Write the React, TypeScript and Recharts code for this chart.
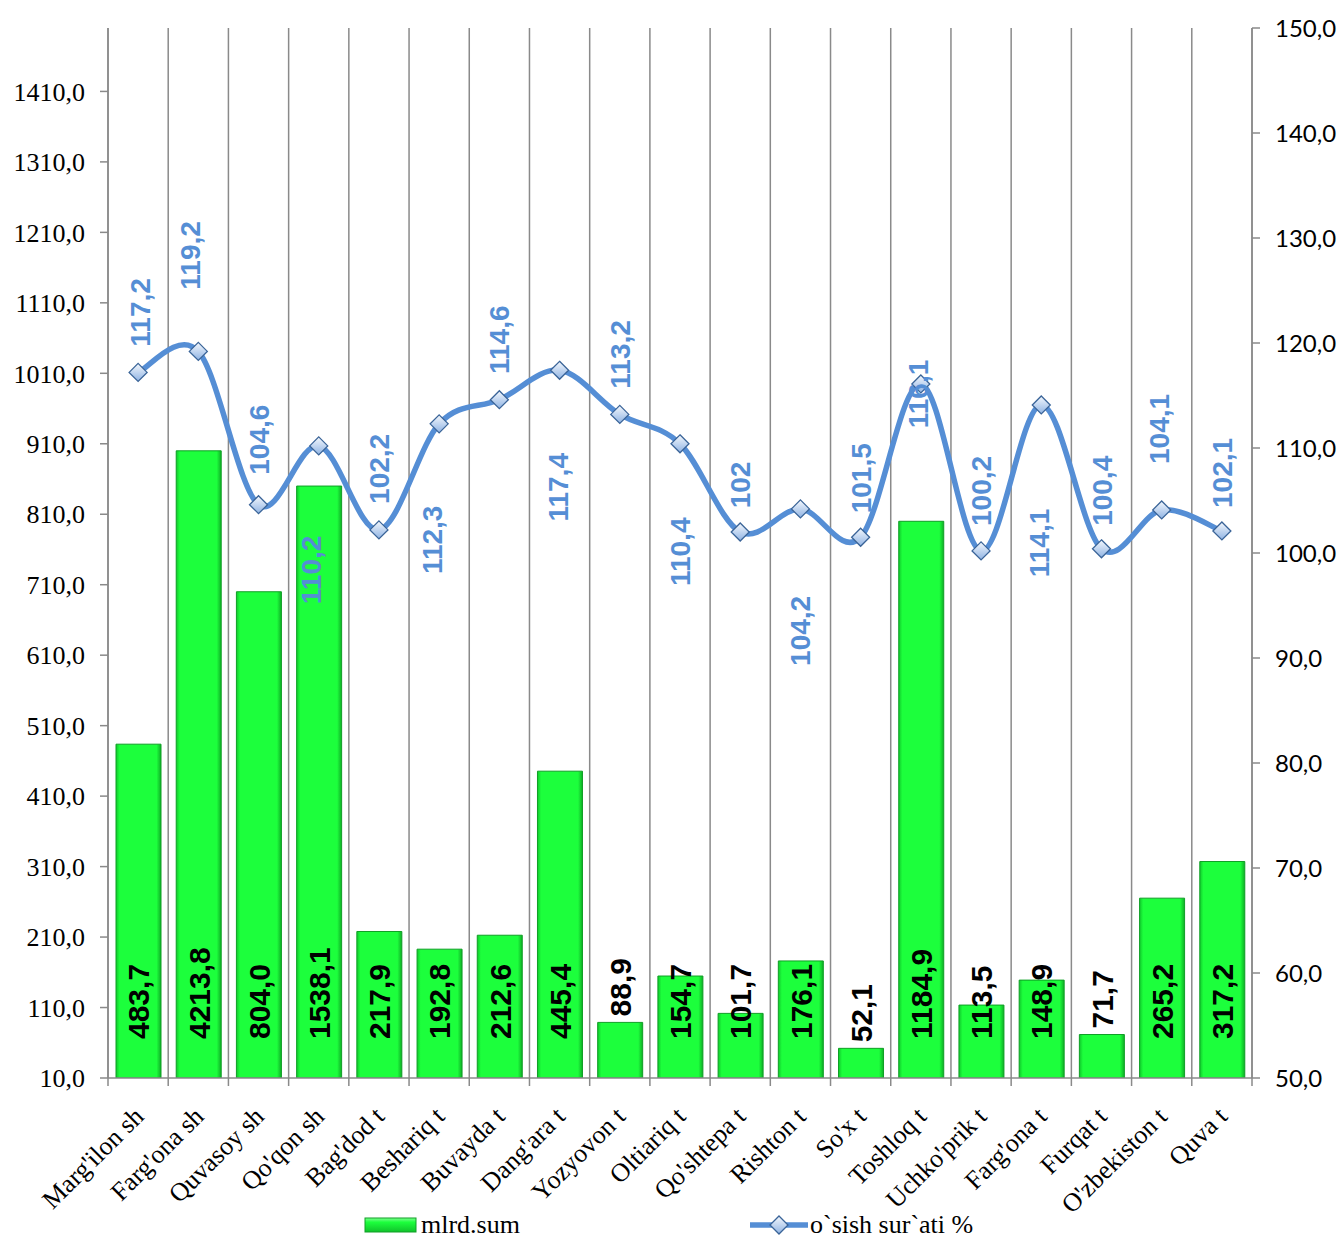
import React from 'react';
import {
  Bar,
  CartesianGrid,
  ComposedChart,
  LabelList,
  Line,
  XAxis,
  YAxis,
} from 'recharts';

// --- data ---
const CATEGORIES = [
  "Marg'ilon sh",
  "Farg'ona sh",
  'Quvasoy sh',
  "Qo'qon sh",
  "Bag'dod t",
  'Beshariq t',
  'Buvayda t',
  "Dang'ara t",
  'Yozyovon t',
  'Oltiariq t',
  "Qo'shtepa t",
  'Rishton t',
  "So'x t",
  'Toshloq t',
  "Uchko'prik t",
  "Farg'ona t",
  'Furqat t',
  "O'zbekiston t",
  'Quva t',
];

// bar heights as drawn on the left axis (tall bars are cut short in the source chart)
const BAR_HEIGHTS = [
  483.7, 900, 700, 850, 217.9, 192.8, 212.6, 445.4, 88.9, 154.7, 101.7, 176.1, 52.1, 800,
  113.5, 148.9, 71.7, 265.2, 317.2,
];

// values printed on the bars
const BAR_LABELS = [
  483.7, 4213.8, 804.0, 1538.1, 217.9, 192.8, 212.6, 445.4, 88.9, 154.7, 101.7, 176.1, 52.1,
  1184.9, 113.5, 148.9, 71.7, 265.2, 317.2,
];

// o`sish sur`ati %
const GROWTH = [
  117.2, 119.2, 104.6, 110.2, 102.2, 112.3, 114.6, 117.4, 113.2, 110.4, 102, 104.2, 101.5,
  116.1, 100.2, 114.1, 100.4, 104.1, 102.1,
];

const LEFT_TICKS = [10, 110, 210, 310, 410, 510, 610, 710, 810, 910, 1010, 1110, 1210, 1310, 1410];
const RIGHT_TICKS = [50, 60, 70, 80, 90, 100, 110, 120, 130, 140, 150];

// --- layout ---
const W = 1342;
const H = 1239;
const PLOT_LEFT = 108;
const PLOT_RIGHT = 1252;
const PLOT_TOP = 28;
const PLOT_BOTTOM = 1078;
const BAND = (PLOT_RIGHT - PLOT_LEFT) / CATEGORIES.length;

const AXIS_GRAY = '#8a8a8a';
const LINE_BLUE = '#558ed5';
const SERIF = '"Liberation Serif", "Times New Roman", serif';
const SANS = '"Liberation Sans", Arial, sans-serif';

// where Excel put each growth label, relative to its point [dx, dy]
const LINE_LABEL_SHIFT: [number, number][] = [
  [2, -60],
  [-8, -96],
  [0, -65],
  [-8, 124],
  [0, -61],
  [-7, 116],
  [0, -60],
  [-2, 117],
  [0, -60],
  [0, 108],
  [0, -47],
  [0, 122],
  [0, -59],
  [-3, 10],
  [0, -60],
  [-2, 138],
  [0, -58],
  [-3, -81],
  [0, -58],
];

const chartData = CATEGORIES.map((name, i) => ({
  name,
  value: BAR_HEIGHTS[i],
  barLabel: BAR_LABELS[i],
  growth: GROWTH[i],
}));

const fmt1 = (v: number) => v.toFixed(1).replace('.', ',');
const fmtGrowth = (v: number) => (Number.isInteger(v) ? String(v) : String(v).replace('.', ','));

// smoothed line like Excel's (catmull-rom through the points)
const smoothCurve = (context: any) => {
  let pts: [number, number][] = [];
  return {
    areaStart() {},
    areaEnd() {},
    lineStart() {
      pts = [];
    },
    point(x: number, y: number) {
      pts.push([+x, +y]);
    },
    lineEnd() {
      if (!pts.length) return;
      context.moveTo(pts[0][0], pts[0][1]);
      for (let i = 0; i < pts.length - 1; i++) {
        const p0 = pts[i - 1] || pts[i];
        const p1 = pts[i];
        const p2 = pts[i + 1];
        const p3 = pts[i + 2] || p2;
        const t = 1 / 6;
        context.bezierCurveTo(
          p1[0] + (p2[0] - p0[0]) * t,
          p1[1] + (p2[1] - p0[1]) * t,
          p2[0] - (p3[0] - p1[0]) * t,
          p2[1] - (p3[1] - p1[1]) * t,
          p2[0],
          p2[1],
        );
      }
    },
  };
};

const CategoryTick = (props: any) => {
  const { x, y, payload, index } = props;
  const ax = x + 7;
  const ay = y + 40;
  return (
    <g>
      <line x1={x - BAND / 2} x2={x - BAND / 2} y1={y} y2={y + 8} stroke={AXIS_GRAY} strokeWidth={1.5} />
      {index === CATEGORIES.length - 1 && (
        <line x1={x + BAND / 2} x2={x + BAND / 2} y1={y} y2={y + 8} stroke={AXIS_GRAY} strokeWidth={1.5} />
      )}
      <text
        x={ax}
        y={ay}
        transform={`rotate(-45, ${ax}, ${ay})`}
        textAnchor="end"
        fontFamily={SERIF}
        fontSize={26}
        fill="#000"
      >
        {payload.value}
      </text>
    </g>
  );
};

const BarValueLabel = (props: any) => {
  const { x, y, width, height, index } = props;
  const cx = Number(x) + Number(width) / 2;
  const bottom = Number(y) + Number(height);
  const ty = Number(height) >= 60 ? bottom - 39 : Number(y) - 6;
  return (
    <text
      x={cx}
      y={ty}
      dy="0.36em"
      transform={`rotate(-90, ${cx}, ${ty})`}
      textAnchor="start"
      fontFamily={SANS}
      fontWeight="bold"
      fontSize={30}
      fill="#000"
    >
      {fmt1(BAR_LABELS[index])}
    </text>
  );
};

const LineValueLabel = (props: any) => {
  const { x, y, index } = props;
  const [dx, dy] = LINE_LABEL_SHIFT[index] || [0, -60];
  const lx = Number(x) + dx;
  const ly = Number(y) + dy;
  return (
    <text
      x={lx}
      y={ly}
      dy="0.36em"
      transform={`rotate(-90, ${lx}, ${ly})`}
      textAnchor="middle"
      fontFamily={SANS}
      fontWeight="bold"
      fontSize={28}
      fill={LINE_BLUE}
    >
      {fmtGrowth(GROWTH[index])}
    </text>
  );
};

const Diamond = (props: any) => {
  const { cx, cy, index } = props;
  const s = 9;
  return (
    <path
      key={`d-${index}`}
      d={`M${cx},${cy - s} L${cx + s},${cy} L${cx},${cy + s} L${cx - s},${cy} Z`}
      fill="url(#diamondGrad)"
      stroke="#3a6498"
      strokeWidth={1.3}
    />
  );
};

const LegendBox: React.FC = () => (
  <svg
    width={W}
    height={39}
    style={{ position: 'absolute', left: 0, top: 1200, pointerEvents: 'none' }}
  >
    <defs>
      <linearGradient id="legendBarGrad" x1="0" y1="0" x2="0" y2="1">
        <stop offset="0%" stopColor="#7dff8f" />
        <stop offset="30%" stopColor="#1cff3c" />
        <stop offset="100%" stopColor="#10c22b" />
      </linearGradient>
      <linearGradient id="legendDiamondGrad" x1="0" y1="0" x2="0" y2="1">
        <stop offset="0%" stopColor="#f4f8fd" />
        <stop offset="100%" stopColor="#8fb3e3" />
      </linearGradient>
    </defs>
    <rect x={365} y={18} width={51} height={14} fill="url(#legendBarGrad)" stroke="#119f27" strokeWidth={1} />
    <text x={421} y={33} fontFamily={SERIF} fontSize={26} fill="#000">
      mlrd.sum
    </text>
    <line x1={750} x2={808} y1={25} y2={25} stroke={LINE_BLUE} strokeWidth={5.5} />
    <path d="M779,16 L788,25 L779,34 L770,25 Z" fill="url(#legendDiamondGrad)" stroke="#3a6498" strokeWidth={1.3} />
    <text x={810} y={33} fontFamily={SERIF} fontSize={26} fill="#000">
      o`sish sur`ati %
    </text>
  </svg>
);

const App: React.FC = () => {
  return (
    <div style={{ position: 'absolute', left: 0, top: 0, width: W, height: H, background: '#fff' }}>
      <ComposedChart
        width={W}
        height={H}
        data={chartData}
        margin={{ top: PLOT_TOP, right: W - PLOT_RIGHT - 90, bottom: 0, left: PLOT_LEFT - 100 }}
      >
        <defs>
          <linearGradient id="barGrad" x1="0" y1="0" x2="1" y2="0">
            <stop offset="0%" stopColor="#10c82b" />
            <stop offset="8%" stopColor="#1cff3c" />
            <stop offset="90%" stopColor="#1cff3c" />
            <stop offset="100%" stopColor="#0fae26" />
          </linearGradient>
          <linearGradient id="diamondGrad" x1="0" y1="0" x2="0" y2="1">
            <stop offset="0%" stopColor="#f4f8fd" />
            <stop offset="100%" stopColor="#8fb3e3" />
          </linearGradient>
        </defs>
        <CartesianGrid
          horizontal={false}
          vertical
          stroke={AXIS_GRAY}
          strokeWidth={1.5}
          verticalCoordinatesGenerator={({ offset }: any) =>
            Array.from({ length: CATEGORIES.length + 1 }, (_, i) => offset.left + (i * offset.width) / CATEGORIES.length)
          }
        />
        <XAxis
          dataKey="name"
          interval={0}
          height={H - PLOT_BOTTOM}
          tickSize={0}
          tickMargin={0}
          tickLine={false}
          axisLine={{ stroke: AXIS_GRAY, strokeWidth: 1.5 }}
          tick={<CategoryTick />}
        />
        <YAxis
          yAxisId="left"
          width={100}
          domain={[10, 1500]}
          ticks={LEFT_TICKS}
          allowDataOverflow
          tickSize={8}
          tickMargin={15}
          tickFormatter={fmt1}
          axisLine={{ stroke: AXIS_GRAY, strokeWidth: 1.5 }}
          tickLine={{ stroke: AXIS_GRAY, strokeWidth: 1.5 }}
          tick={{ fontFamily: SERIF, fontSize: 26, fill: '#000' }}
        />
        <YAxis
          yAxisId="right"
          orientation="right"
          width={90}
          domain={[50, 150]}
          ticks={RIGHT_TICKS}
          allowDataOverflow
          tickSize={8}
          tickMargin={15}
          tickFormatter={fmt1}
          axisLine={{ stroke: AXIS_GRAY, strokeWidth: 1.5 }}
          tickLine={{ stroke: AXIS_GRAY, strokeWidth: 1.5 }}
          tick={{ fontFamily: 'Lato, "Open Sans", sans-serif', fontSize: 24, fill: '#000' }}
        />
        <Bar
          yAxisId="left"
          dataKey="value"
          barSize={45}
          fill="url(#barGrad)"
          stroke="#0f9f25"
          strokeWidth={1}
          isAnimationActive={false}
        >
          <LabelList dataKey="barLabel" content={<BarValueLabel />} />
        </Bar>
        <Line
          yAxisId="right"
          dataKey="growth"
          type={smoothCurve as any}
          stroke={LINE_BLUE}
          strokeWidth={5.5}
          dot={<Diamond />}
          activeDot={false}
          isAnimationActive={false}
        >
          <LabelList dataKey="growth" content={<LineValueLabel />} />
        </Line>
      </ComposedChart>
      <LegendBox />
    </div>
  );
};

export default App;
